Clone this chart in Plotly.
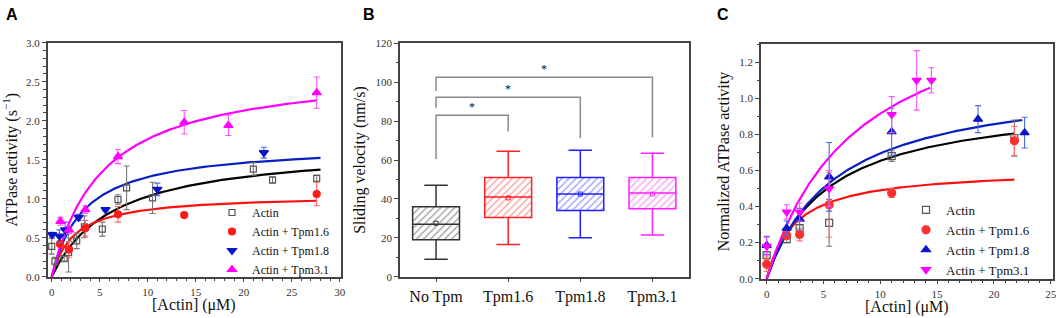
import numpy as np
import plotly.graph_objects as go

# ---------------- Panel A data ----------------
A_series = ["Actin", "Actin + Tpm1.6", "Actin + Tpm1.8", "Actin + Tpm3.1"]
A_actin_x = [0, 0.34, 1.3, 1.75, 2.6, 3.4, 5.27, 6.9, 7.8, 10.5, 21.0, 23.0, 27.6]
A_actin_y = [0.39, 0.20, 0.23, 0.31, 0.46, 0.64, 0.61, 0.99, 1.14, 1.01, 1.38, 1.24, 1.26]
A_actin_e = [0.10, 0.05, 0.03, 0.25, 0.10, 0.14, 0.09, 0.06, 0.28, 0.20, 0.08, 0.04, 0.04]
A_t16_x = [0.86, 1.8, 3.5, 6.9, 13.8, 27.6]
A_t16_y = [0.42, 0.35, 0.62, 0.80, 0.79, 1.06]
A_t16_e = [0.03, 0.10, 0.10, 0.10, 0.02, 0.15]
A_t18_x = [0.03, 0.8, 1.4, 2.8, 5.6, 11.0, 22.1]
A_t18_y = [0.54, 0.52, 0.60, 0.76, 0.86, 1.12, 1.59]
A_t18_e = [0.03, 0.08, 0.10, 0.04, 0.02, 0.08, 0.07]
A_t31_x = [0.9, 1.8, 3.5, 6.9, 13.8, 18.4, 27.6]
A_t31_y = [0.71, 0.60, 0.86, 1.54, 1.98, 1.94, 2.36]
A_t31_e = [0.05, 0.05, 0.05, 0.09, 0.15, 0.13, 0.20]
# Michaelis-Menten fit parameters (Vmax, Km, x end)
A_fit_vmax = [1.686, 1.055, 1.703, 2.687]
A_fit_km = [6.37, 2.3, 3.32, 5.22]
A_fit_xend = [28.0, 27.6, 28.0, 27.6]

# ---------------- Panel B data ----------------
B_cats = ["No Tpm", "Tpm1.6", "Tpm1.8", "Tpm3.1"]
B_low = [9, 16.5, 20, 21.5]
B_q1 = [19, 30.5, 34, 35]
B_med = [27, 41, 42.5, 43]
B_q3 = [36, 51, 51, 51]
B_high = [47, 64.5, 65, 63.5]
B_mean = [27.5, 40.5, 42.5, 42.5]
# significance brackets: (left idx, right idx, top, left drop, right drop)
B_br_left = [0, 0, 0]
B_br_right = [1, 2, 3]
B_br_top = [83, 92.2, 102.5]
B_br_ldrop = [60.5, 86.6, 95.5]
B_br_rdrop = [74.6, 71.2, 71.7]
B_br_label = ["*", "*", "*"]

# ---------------- Panel C data ----------------
C_actin_x = [0, 1.76, 2.9, 5.5, 11.0, 21.8]
C_actin_y = [0.13, 0.22, 0.28, 0.31, 0.68, 0.78]
C_actin_e = [0.02, 0.02, 0.02, 0.13, 0.03, 0.10]
C_t16_x = [0, 1.76, 2.9, 5.5, 11.0, 21.8]
C_t16_y = [0.08, 0.24, 0.245, 0.41, 0.475, 0.765]
C_t16_e = [0.04, 0.02, 0.035, 0.18, 0.025, 0.08]
C_t18_x = [0, 1.76, 2.9, 5.5, 11.0, 18.6, 22.7]
C_t18_y = [0.185, 0.28, 0.33, 0.565, 0.815, 0.885, 0.81]
C_t18_e = [0.05, 0.04, 0.06, 0.19, 0.13, 0.075, 0.085]
C_t31_x = [0, 1.76, 2.9, 5.5, 11.0, 13.2, 14.5]
C_t31_y = [0.18, 0.37, 0.37, 0.50, 0.91, 1.10, 1.10]
C_t31_e = [0.05, 0.04, 0.05, 0.10, 0.10, 0.165, 0.07]
C_fit_vmax = [1.002, 0.612, 1.117, 1.64]
C_fit_km = [5.33, 2.47, 6.07, 7.9]
C_fit_xend = [21.8, 21.8, 22.5, 14.4]

SERIF = "Liberation Serif"
fig = go.Figure()

def pts(x, y, e, name, symbol, color, ecolor, xa, ya, legend, size=7):
    fig.add_trace(go.Scatter(
        x=x, y=y, mode="markers", name=name, xaxis=xa, yaxis=ya, legend=legend,
        marker=dict(symbol=symbol, size=size, color=color,
                    line=dict(color=color, width=1.2)),
        error_y=dict(type="data", array=e, visible=True, color=ecolor,
                     thickness=1.1, width=3)))

def fit(vmax, km, xend, color, xa, ya):
    xs = np.linspace(0, xend, 200)
    fig.add_trace(go.Scatter(x=xs, y=vmax * xs / (km + xs), mode="lines",
                             line=dict(color=color, width=2.2), xaxis=xa, yaxis=ya,
                             showlegend=False, hoverinfo="skip"))

fit_cols = ["#000000", "#ff1010", "#0a1fbf", "#ff00ff"]

# Panel A
for v, k, xe, c in zip(A_fit_vmax, A_fit_km, A_fit_xend, fit_cols):
    fit(v, k, xe, c, "x", "y")
pts(A_actin_x, A_actin_y, A_actin_e, A_series[0], "square-open", "#555555", "#777777", "x", "y", "legend", 6)
pts(A_t16_x, A_t16_y, A_t16_e, A_series[1], "circle", "#ff1a1a", "#ff6060", "x", "y", "legend")
pts(A_t18_x, A_t18_y, A_t18_e, A_series[2], "triangle-down", "#0a14c8", "#4a68e8", "x", "y", "legend", 8)
pts(A_t31_x, A_t31_y, A_t31_e, A_series[3], "triangle-up", "#ff00ff", "#ff50ff", "x", "y", "legend", 8)

# Panel B
B_cols = ["#333333", "#ff2020", "#2020ff", "#ff20ff"]
B_hatch = ["#333333", "#ff3030", "#3030ff", "#ff30ff"]
B_pos = list(range(len(B_cats)))
fig.add_trace(go.Bar(
    x=B_pos, y=[q3 - q1 for q1, q3 in zip(B_q1, B_q3)], base=B_q1, width=0.65,
    xaxis="x2", yaxis="y2", showlegend=False, hoverinfo="skip",
    marker=dict(color="rgba(255,255,255,0)", line=dict(width=0),
                pattern=dict(shape="/", fgcolor=B_hatch, size=5, solidity=0.25,
                             bgcolor="rgba(255,255,255,0)"))))
for i in B_pos:
    fig.add_trace(go.Box(
        x=[i], q1=[B_q1[i]], median=[B_med[i]], q3=[B_q3[i]],
        lowerfence=[B_low[i]], upperfence=[B_high[i]], width=0.65,
        whiskerwidth=0.5, fillcolor="rgba(0,0,0,0)",
        line=dict(color=B_cols[i], width=1.5), xaxis="x2", yaxis="y2",
        showlegend=False, hoverinfo="skip"))
fig.add_trace(go.Scatter(
    x=B_pos, y=B_mean, mode="markers", xaxis="x2", yaxis="y2", showlegend=False,
    marker=dict(symbol="square-open", size=4, color=B_cols, line=dict(width=1))))
for l, r, t, ld, rd, lab in zip(B_br_left, B_br_right, B_br_top, B_br_ldrop, B_br_rdrop, B_br_label):
    fig.add_trace(go.Scatter(x=[l, l, r, r], y=[ld, t, t, rd], mode="lines",
                             line=dict(color="#8a8a8a", width=1.5), xaxis="x2", yaxis="y2",
                             showlegend=False, hoverinfo="skip"))
    fig.add_annotation(x=(l + r) / 2, y=t, xref="x2", yref="y2", text=lab,
                       showarrow=False, yanchor="bottom", yshift=-1,
                       font=dict(family=SERIF, size=12, color="#111111"))

# Panel C
for v, k, xe, c in zip(C_fit_vmax, C_fit_km, C_fit_xend, fit_cols):
    fit(v, k, xe, c, "x3", "y3")
pts(C_actin_x, C_actin_y, C_actin_e, A_series[0], "square-open", "#555555", "#777777", "x3", "y3", "legend2", 7)
pts(C_t16_x, C_t16_y, C_t16_e, A_series[1], "circle", "#ff3030", "#ff7070", "x3", "y3", "legend2", 8)
pts(C_t18_x, C_t18_y, C_t18_e, A_series[2], "triangle-up", "#0a14c8", "#4a68e8", "x3", "y3", "legend2", 8)
pts(C_t31_x, C_t31_y, C_t31_e, A_series[3], "triangle-down", "#ff00ff", "#ff50ff", "x3", "y3", "legend2", 8)

H, W = 318, 1059
def fx(px): return px / W
def fy(py): return 1 - py / H

axis_common = dict(showline=True, linecolor="#444444", linewidth=1.5, mirror=True,
                   ticks="outside", ticklen=4, tickwidth=1.2, tickcolor="#444444",
                   showgrid=False, zeroline=False,
                   tickfont=dict(family=SERIF, size=11, color="#333333"))
title_font = dict(family=SERIF, size=16, color="#111111")
minor_common = dict(ticks="outside", ticklen=2.5, tickcolor="#444444")

fig.update_layout(
    width=W, height=H, margin=dict(l=0, r=0, t=0, b=0, autoexpand=False),
    paper_bgcolor="white", plot_bgcolor="white", barmode="overlay",
    xaxis=dict(domain=[fx(47.7), fx(340.7)], range=[-0.42, 30.1], dtick=5, anchor="y",
               minor=dict(dtick=1, **minor_common), **axis_common),
    yaxis=dict(domain=[fy(276.7), fy(42.7)], range=[0, 3.0], dtick=0.5, tickformat=".1f",
               anchor="x", minor=dict(dtick=0.1, **minor_common),
               title=dict(text="ATPase activity (s<sup>−1</sup>)", font=title_font, standoff=6),
               **axis_common),
    xaxis2=dict(domain=[fx(400), fx(688.5)], range=[-0.5, 3.5], tickvals=B_pos,
                ticktext=B_cats, anchor="y2",
                **{**axis_common, "tickfont": dict(family=SERIF, size=16, color="#111")}),
    yaxis2=dict(domain=[fy(276.7), fy(43.3)], range=[0, 120], dtick=20, anchor="x2",
                minor=dict(dtick=10, **minor_common),
                title=dict(text="Sliding velocity (nm/s)", font=title_font, standoff=6),
                **axis_common),
    xaxis3=dict(domain=[fx(761), fx(1053)], range=[-0.5, 25.2], dtick=5, anchor="y3",
                minor=dict(dtick=1, **minor_common), **axis_common),
    yaxis3=dict(domain=[fy(278.7), fy(44.3)], range=[0, 1.3], dtick=0.2, tickformat=".1f",
                anchor="x3", minor=dict(dtick=0.1, **minor_common),
                title=dict(text="Normalized ATPase activity", font=title_font, standoff=6),
                **axis_common),
    legend=dict(x=fx(212), y=fy(198), xanchor="left", yanchor="top",
                bgcolor="rgba(0,0,0,0)", font=dict(family=SERIF, size=12, color="#111"),
                tracegroupgap=0),
    legend2=dict(x=fx(906), y=fy(195), xanchor="left", yanchor="top",
                 bgcolor="rgba(0,0,0,0)", font=dict(family=SERIF, size=13, color="#111"),
                 tracegroupgap=0),
)

# x-axis titles
for xa_dom, cy in [((47.7, 340.7), 305), ((761, 1053), 307)]:
    fig.add_annotation(x=fx((xa_dom[0] + xa_dom[1]) / 2), y=fy(cy), xref="paper", yref="paper",
                       text="[Actin] (μM)", showarrow=False, xanchor="center", yanchor="middle",
                       font=title_font)

for lab, px in zip(["A", "B", "C"], [4, 361, 715]):
    fig.add_annotation(x=fx(px), y=fy(4), xref="paper", yref="paper", text="<b>%s</b>" % lab,
                       showarrow=False, xanchor="left", yanchor="top",
                       font=dict(family="Liberation Sans", size=16, color="#000"))

fig.write_html("out.html", config={"displayModeBar": False},
               post_script="document.body.style.margin='0';document.body.style.overflow='hidden';")
